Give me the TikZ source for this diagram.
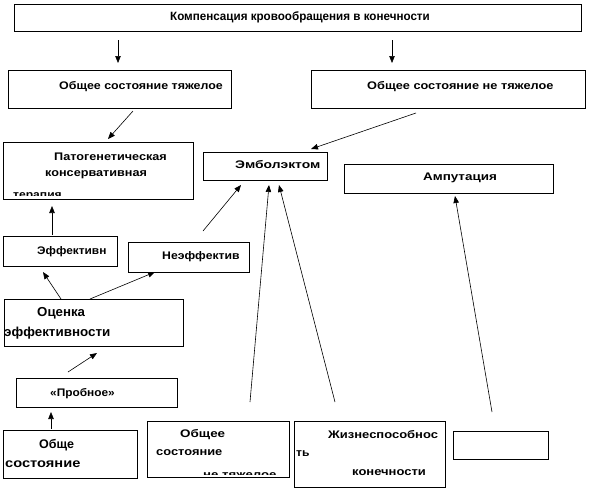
\documentclass[tikz,border=0pt]{standalone}
\usepackage{fontspec}
\usepackage{graphicx}
\setmainfont{Liberation Sans}
\usetikzlibrary{arrows.meta}
\newcommand{\hsc}[2]{\scalebox{#1}[1]{#2}}
\begin{document}
\begin{tikzpicture}[x=1pt,y=-1pt,
  box/.style={draw, line width=0.8pt, inner sep=0pt, anchor=north west},
  lbl/.style={font=\bfseries\fontsize{11}{13}\selectfont, inner sep=0pt, anchor=west},
  big/.style={font=\bfseries\fontsize{13}{15}\selectfont},
  mid/.style={font=\bfseries\fontsize{12.5}{14}\selectfont},
  arr/.style={-{Triangle[length=7pt,width=5.5pt]}, line width=0.6pt}]
\useasboundingbox[fill=white] (0,0) rectangle (597,491);
% boxes
\node[box, minimum width=567pt, minimum height=27pt] (top) at (14,4) {};
\node[box, minimum width=223pt, minimum height=38pt] (heavy) at (8,70) {};
\node[box, minimum width=274pt, minimum height=38pt] (notheavy) at (311,70) {};
\node[box, minimum width=190pt, minimum height=57pt] (pato) at (3,142) {};
\node[box, minimum width=124pt, minimum height=28pt] (embol) at (203,152) {};
\node[box, minimum width=209pt, minimum height=29pt] (amput) at (344,164) {};
\node[box, minimum width=114pt, minimum height=30pt] (eff) at (3,236) {};
\node[box, minimum width=121pt, minimum height=30pt] (neeff) at (128,242) {};
\node[box, minimum width=179pt, minimum height=47pt] (ocen) at (4,299) {};
\node[box, minimum width=161pt, minimum height=29pt] (probn) at (16,378) {};
\node[box, minimum width=134pt, minimum height=48pt] (obshe) at (3,430) {};
\node[box, minimum width=142pt, minimum height=56pt] (obnt) at (147,421) {};
\node[box, minimum width=151pt, minimum height=66pt] (zhiz) at (294,421) {};
\node[box, minimum width=95pt, minimum height=28pt] (empty) at (453,431) {};
% texts
\node[lbl, font=\bfseries\fontsize{12}{14}\selectfont, anchor=center] (ttop) at (300,17) {\hsc{0.97}{Компенсация кровообращения в конечности}};
\node[lbl] (theavy) at (59,87) {\hsc{1.13}{Общее состояние тяжелое}};
\node[lbl] (tnotheavy) at (367,87) {\hsc{1.16}{Общее состояние не тяжелое}};
\node[lbl] (tpato1) at (54,157) {\hsc{1.15}{Патогенетическая}};
\node[lbl] (tpato2) at (45,175) {\hsc{1.15}{консервативная}};
\begin{scope}
\clip (3,142) rectangle (193,195);
\node[lbl] (tpato3) at (13,197) {\hsc{1.1}{терапия}};
\end{scope}
\node[lbl] (tembol) at (235,165) {\hsc{1.26}{Эмболэктом}};
\node[lbl, anchor=center] (tamput) at (460,178) {\hsc{1.22}{Ампутация}};
\node[lbl] (teff) at (37,252) {\hsc{1.08}{Эффективн}};
\node[lbl] (tneeff) at (162,257) {\hsc{1.11}{Неэффектив}};
\node[lbl, big] (tocen1) at (37,313) {\hsc{1.02}{Оценка}};
\node[lbl, big] (tocen2) at (4,333) {\hsc{1.03}{эффективности}};
\node[lbl] (tprobn) at (50,394) {\hsc{1.08}{«Пробное»}};
\node[lbl, mid] (tobshe1) at (39,445) {Обще};
\node[lbl, mid] (tobshe2) at (5,464) {\hsc{1.17}{состояние}};
\node[lbl] (tobnt1) at (180,435) {\hsc{1.22}{Общее}};
\node[lbl] (tobnt2) at (156,453) {\hsc{1.17}{состояние}};
\begin{scope}
\clip (147,421) rectangle (289,474);
\node[lbl] (tobnt3) at (203,476) {\hsc{1.2}{не тяжелое}};
\end{scope}
\node[lbl] (tzhiz1) at (328,435) {\hsc{1.18}{Жизнеспособнос}};
\node[lbl] (tzhiz2) at (296,454) {\hsc{1.1}{ть}};
\node[lbl] (tzhiz3) at (352,473) {\hsc{1.18}{конечности}};
% connector endpoints
\coordinate (a1s) at (118,40);  \coordinate (a1e) at (118,63);
\coordinate (a2s) at (392,40);  \coordinate (a2e) at (392,63);
\coordinate (a3s) at (133,111); \coordinate (a3e) at (108,139);
\coordinate (a4s) at (416,113); \coordinate (a4e) at (311,149);
\coordinate (a5s) at (52,235);  \coordinate (a5e) at (52,206);
\coordinate (a6s) at (203,231); \coordinate (a6e) at (241,185);
\coordinate (a7s) at (250,402); \coordinate (a7e) at (269,185);
\coordinate (a8s) at (335,402); \coordinate (a8e) at (279,185);
\coordinate (a9s) at (492,412); \coordinate (a9e) at (455,196);
\coordinate (a10s) at (61,299); \coordinate (a10e) at (43,272);
\coordinate (a11s) at (90,299); \coordinate (a11e) at (155,272);
\coordinate (a12s) at (68,372); \coordinate (a12e) at (97,353);
\coordinate (a13s) at (51,429); \coordinate (a13e) at (51,412);
\foreach \i in {1,...,13} { \draw[arr] (a\i s) -- (a\i e); }
\end{tikzpicture}
\end{document}
